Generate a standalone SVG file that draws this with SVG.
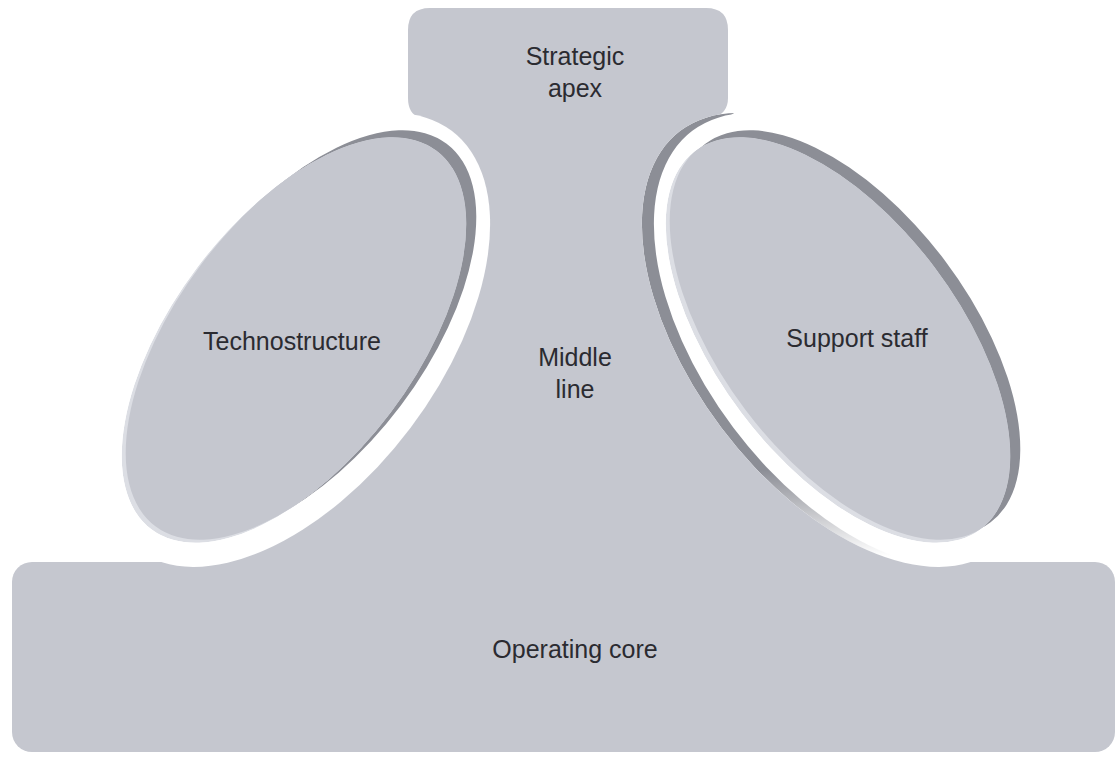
<svg xmlns="http://www.w3.org/2000/svg" xmlns:xlink="http://www.w3.org/1999/xlink" width="1117" height="757" viewBox="0 0 1117 757">
  <style>
    .fill { fill: #c5c7cf; }
    .shade { fill: #8c8e96; }
    .rim { fill: #dcdee4; }
    .label { font-family: "Liberation Sans", Arial, Helvetica, sans-serif; font-size: 25px; fill: #2b2b31; text-anchor: middle; }
  </style>
  <defs>
    <!-- body pieces: apex, neck (middle line) and base (operating core) -->
    <path id="apexShape" d="M408,30 Q408,8 430,8 L706,8 Q728,8 728,30 L728,98 Q728,114 712,118 L712,210 L420,210 L420,118 Q408,114 408,98 Z"/>
    <path id="neckShape" d="M420,200 L712,200 L882,540 L904,562 L904,580 L228,580 L228,562 L250,540 Z"/>
    <rect id="coreShape" x="12" y="562" width="1103" height="190" rx="20" ry="20"/>

    <!-- the two side units and the gaps cut around them -->
    <ellipse id="unitEllipse" cx="0" cy="0" rx="237" ry="121"/>
    <ellipse id="gapEllipse" cx="0" cy="0" rx="262" ry="146"/>

    <mask id="cut" maskUnits="userSpaceOnUse" x="0" y="0" width="1117" height="757">
      <rect x="0" y="0" width="1117" height="757" fill="#fff"/>
      <use xlink:href="#gapEllipse" transform="translate(294,340) rotate(-53)" fill="#000"/>
      <use xlink:href="#gapEllipse" transform="translate(838,340) rotate(53)" fill="#000"/>
    </mask>
    <clipPath id="gaps">
      <use xlink:href="#gapEllipse" transform="translate(294,340) rotate(-53)"/>
      <use xlink:href="#gapEllipse" transform="translate(838,340) rotate(53)"/>
    </clipPath>

    <!-- the edge shading fades out towards the operating core -->
    <linearGradient id="shadeFade" gradientUnits="userSpaceOnUse" x1="0" y1="470" x2="0" y2="556">
      <stop offset="0" stop-color="#fff"/>
      <stop offset="1" stop-color="#000"/>
    </linearGradient>
    <mask id="fadeDown" maskUnits="userSpaceOnUse" x="0" y="0" width="1117" height="757">
      <rect x="0" y="0" width="1117" height="757" fill="url(#shadeFade)"/>
    </mask>

    <clipPath id="clipTech">
      <use xlink:href="#unitEllipse" transform="translate(294,340) rotate(-53)"/>
    </clipPath>
    <clipPath id="clipSupport">
      <use xlink:href="#unitEllipse" transform="translate(838,340) rotate(53)"/>
    </clipPath>

    <g id="bodyCut" mask="url(#cut)">
      <use xlink:href="#apexShape"/>
      <use xlink:href="#neckShape"/>
      <use xlink:href="#coreShape"/>
    </g>
  </defs>

  <rect x="0" y="0" width="1117" height="757" fill="#ffffff"/>

  <!-- shading of the body edges inside the gaps -->
  <g id="body-shade" mask="url(#fadeDown)">
    <g clip-path="url(#gaps)" class="shade">
      <use xlink:href="#bodyCut" transform="translate(12,0)"/>
    </g>
  </g>

  <!-- body: apex, middle line and operating core, cut around the side units -->
  <g id="body" mask="url(#cut)" class="fill">
    <g id="strategic-apex">
      <use xlink:href="#apexShape"/>
    </g>
    <g id="middle-line">
      <use xlink:href="#neckShape"/>
    </g>
    <g id="operating-core">
      <use xlink:href="#coreShape"/>
    </g>
  </g>

  <g id="labels-body">
    <text class="label" x="575" y="65">Strategic</text>
    <text class="label" x="575" y="97">apex</text>
    <text class="label" x="575" y="366">Middle</text>
    <text class="label" x="575" y="398">line</text>
    <text class="label" x="575" y="658">Operating core</text>
  </g>

  <g id="technostructure">
    <use xlink:href="#unitEllipse" class="shade" transform="translate(304,333) rotate(-53)"/>
    <g clip-path="url(#clipTech)">
      <use xlink:href="#unitEllipse" class="rim" transform="translate(294,340) rotate(-53)"/>
      <use xlink:href="#unitEllipse" class="fill" transform="translate(298,337) rotate(-53)"/>
    </g>
    <text class="label" x="292" y="350">Technostructure</text>
  </g>

  <g id="support-staff">
    <use xlink:href="#unitEllipse" class="shade" transform="translate(848,333) rotate(53)"/>
    <g clip-path="url(#clipSupport)">
      <use xlink:href="#unitEllipse" class="rim" transform="translate(838,340) rotate(53)"/>
      <use xlink:href="#unitEllipse" class="fill" transform="translate(842,337) rotate(53)"/>
    </g>
    <text class="label" x="857" y="347">Support staff</text>
  </g>

  <g id="connectors"></g>
</svg>
